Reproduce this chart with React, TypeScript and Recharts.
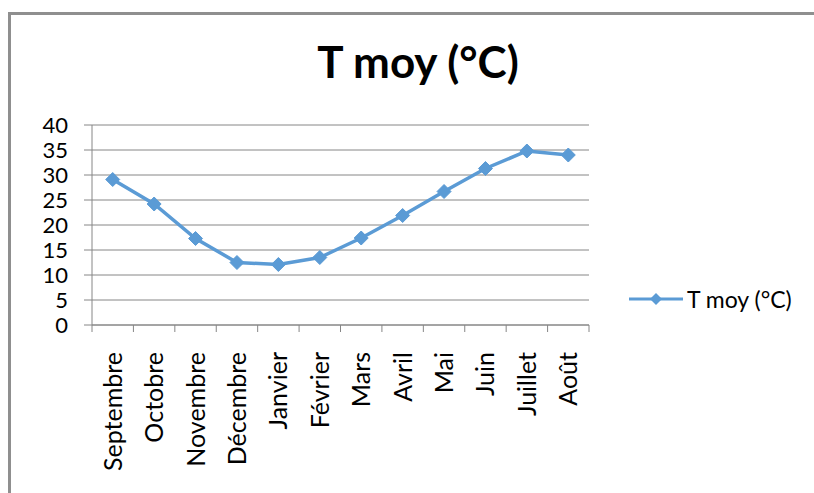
import { LineChart, Line, XAxis, YAxis, CartesianGrid, Legend } from "recharts";

const MONTHS = [
  "Septembre",
  "Octobre",
  "Novembre",
  "Décembre",
  "Janvier",
  "Février",
  "Mars",
  "Avril",
  "Mai",
  "Juin",
  "Juillet",
  "Août",
];
const T_MOY = [29.1, 24.2, 17.3, 12.5, 12.1, 13.5, 17.4, 21.9, 26.7, 31.3, 34.8, 34.0];
const Y_TICKS = [0, 5, 10, 15, 20, 25, 30, 35, 40];
const SERIES_NAME = "T moy (°C)";

const BLUE = "#5B9BD5";
const GRID = "#868686";
const LABEL_FONT = "Lato, 'Open Sans', sans-serif";

const CHART_W = 814;
const PLOT_LEFT = 92;
const MARGIN_RIGHT = 225;
// width of one category slot, used to put the tick marks between labels
const BAND = (CHART_W - MARGIN_RIGHT - PLOT_LEFT) / MONTHS.length;

const data = MONTHS.map((month, i) => ({ month, t: T_MOY[i] }));

const Diamond = (props: any) => {
  const { cx, cy } = props;
  if (cx == null || cy == null) return null;
  const r = 7;
  return (
    <path
      d={`M${cx},${cy - r}L${cx + r},${cy}L${cx},${cy + r}L${cx - r},${cy}Z`}
      fill={BLUE}
      stroke={BLUE}
    />
  );
};

const MonthTick = (props: any) => {
  const { x, y, payload, index } = props;
  const top = y - 8;
  const ty = y + 19;
  return (
    <g>
      <line x1={x + BAND / 2} y1={top} x2={x + BAND / 2} y2={top + 7} stroke={GRID} />
      {index === 0 && (
        <line x1={x - BAND / 2} y1={top} x2={x - BAND / 2} y2={top + 7} stroke={GRID} />
      )}
      <text
        x={x}
        y={ty}
        transform={`rotate(-90, ${x}, ${ty})`}
        textAnchor="end"
        dy={9}
        fontSize={25}
        fontFamily={LABEL_FONT}
        fill="#000"
      >
        {payload.value}
      </text>
    </g>
  );
};

const LegendContent = () => (
  <div style={{ display: "flex", alignItems: "center" }}>
    <svg width={56} height={16}>
      <line x1={1} y1={8} x2={55} y2={8} stroke={BLUE} strokeWidth={3} />
      <path d="M28,2L34,8L28,14L22,8Z" fill={BLUE} />
    </svg>
    <span
      style={{
        fontFamily: LABEL_FONT,
        fontSize: 23,
        color: "#000",
        marginLeft: 3,
        whiteSpace: "nowrap",
      }}
    >
      {SERIES_NAME}
    </span>
  </div>
);

export default function App() {
  return (
    <div
      style={{
        position: "absolute",
        left: 0,
        top: 0,
        width: 814,
        height: 493,
        background: "#fff",
        overflow: "hidden",
      }}
    >
      {/* chart frame: only top and left edges show */}
      <div
        style={{
          position: "absolute",
          left: 8,
          top: 12,
          width: 820,
          height: 500,
          borderTop: "3px solid #8f8f8f",
          borderLeft: "3px solid #8f8f8f",
        }}
      />
      <div
        style={{
          position: "absolute",
          left: 0,
          top: 35,
          width: 836,
          textAlign: "center",
          fontFamily: LABEL_FONT,
          fontWeight: 700,
          fontSize: 44,
          color: "#000",
        }}
      >
        {SERIES_NAME}
      </div>
      <div style={{ position: "absolute", left: 0, top: 0 }}>
        <LineChart
          width={CHART_W}
          height={493}
          data={data}
          margin={{ top: 125, right: MARGIN_RIGHT, left: 0, bottom: 0 }}
        >
          <CartesianGrid vertical={false} stroke={GRID} strokeWidth={1} />
          <XAxis
            dataKey="month"
            scale="band"
            height={168}
            interval={0}
            stroke={GRID}
            tickLine={false}
            tick={<MonthTick />}
          />
          <YAxis
            width={PLOT_LEFT}
            domain={[0, 40]}
            ticks={Y_TICKS}
            interval={0}
            stroke={GRID}
            tickLine={{ stroke: GRID }}
            tickSize={8}
            tickMargin={16}
            tick={{ fill: "#000", fontSize: 22, fontFamily: LABEL_FONT }}
          />
          <Legend
            layout="horizontal"
            align="center"
            verticalAlign="middle"
            content={<LegendContent />}
            wrapperStyle={{ left: 628, top: 285, width: 186 }}
          />
          <Line
            type="linear"
            dataKey="t"
            name={SERIES_NAME}
            stroke={BLUE}
            strokeWidth={3.5}
            dot={<Diamond />}
            activeDot={false}
            isAnimationActive={false}
          />
        </LineChart>
      </div>
    </div>
  );
}
